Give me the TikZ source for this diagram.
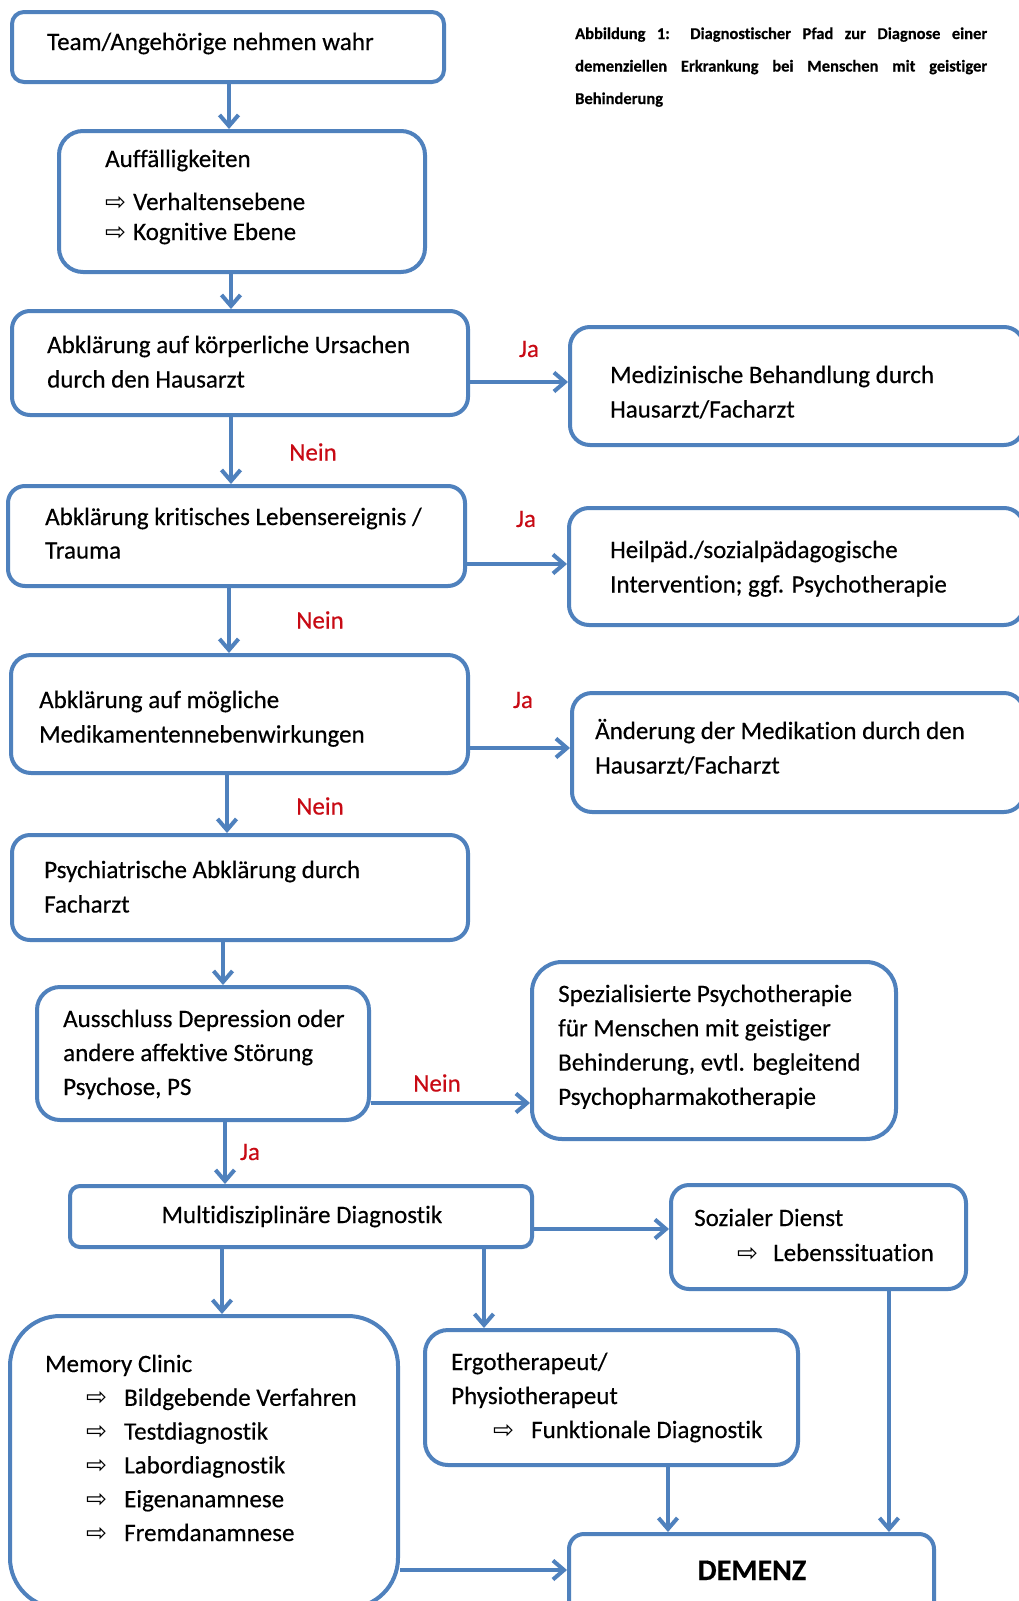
\documentclass[tikz,border=0pt]{standalone}
\usepackage{fontspec}
\setmainfont{Carlito}[Ligatures=NoCommon, FakeBold=0.4]
\newfontfamily\djv{DejaVu Sans}
\usetikzlibrary{arrows.meta}
\definecolor{bblue}{RGB}{79,129,189}
\definecolor{jared}{RGB}{200,10,20}
\newcommand\rarr{{\djv\fontsize{25}{25}\selectfont ⇨}}
\newcommand\mylines[1]{\begin{tabular}[t]{@{}l@{}}#1\end{tabular}}
\begin{document}
\begin{tikzpicture}[x=1pt,y=-1pt,
  box/.style={draw=bblue, line width=4pt, rectangle, inner sep=0pt},
  txt/.style={anchor=base west, inner sep=0pt, font=\fontsize{25}{34.5}\selectfont},
  lab/.style={inner sep=0pt, text=jared, font=\fontsize{25}{30}\selectfont},
  arr/.style={draw=bblue, line width=4pt, -{Straight Barb[length=11pt,width=19pt]}},
]
\fill[white] (0,0) rectangle (1019,1601);
\useasboundingbox (0,0) rectangle (1019,1601);

% caption
\node[anchor=base west, inner sep=0pt, font=\bfseries\fontsize{16.5}{32.5}\selectfont] (cap) at (575,39)
  {\mylines{\makebox[412pt][s]{Abbildung 1: Diagnostischer Pfad zur Diagnose einer}\\
  \makebox[412pt][s]{demenziellen Erkrankung bei Menschen mit geistiger}\\ Behinderung}};

% boxes
\node[box, rounded corners=12pt, minimum width=432pt, minimum height=70pt] (team) at (228,47) {};
\node[box, rounded corners=24pt, minimum width=366pt, minimum height=141pt] (auff) at (242,201.5) {};
\node[box, rounded corners=18pt, minimum width=456pt, minimum height=104pt] (abk1) at (240,363) {};
\node[box, rounded corners=20pt, minimum width=454pt, minimum height=118pt] (med) at (797,386) {};
\node[box, rounded corners=17pt, minimum width=457pt, minimum height=100pt] (abk2) at (236.5,536) {};
\node[box, rounded corners=20pt, minimum width=455pt, minimum height=117pt] (heil) at (796.5,566.5) {};
\node[box, rounded corners=20pt, minimum width=457pt, minimum height=118pt] (abk3) at (239.5,714) {};
\node[box, rounded corners=20pt, minimum width=452pt, minimum height=119pt] (aend) at (798,752.5) {};
\node[box, rounded corners=18pt, minimum width=456pt, minimum height=105pt] (psych) at (240,887.5) {};
\node[box, rounded corners=23pt, minimum width=332pt, minimum height=133pt] (aus) at (203,1053.5) {};
\node[box, rounded corners=30pt, minimum width=364pt, minimum height=177pt] (spez) at (714,1050.5) {};
\node[box, rounded corners=10pt, minimum width=462pt, minimum height=61pt] (multi) at (301,1216.5) {};
\node[box, rounded corners=18pt, minimum width=295pt, minimum height=104pt] (soz) at (818.5,1237) {};
\node[box, rounded corners=50pt, minimum width=388pt, minimum height=292pt] (mem) at (204,1462) {};
\node[box, rounded corners=23pt, minimum width=373pt, minimum height=135pt] (ergo) at (611.5,1397.5) {};
\node[box, rounded corners=15pt, minimum width=365pt, minimum height=91pt] (dem) at (751.5,1579.5) {};

% texts
\node[txt] (tteam) at (47,50) {Team/Angehörige nehmen wahr};
\node[txt, font=\fontsize{25}{30}\selectfont] (tauff) at (105,167)
  {\mylines{Auffälligkeiten\\[13pt] \makebox[28pt][l]{\rarr}Verhaltensebene\\ \makebox[28pt][l]{\rarr}Kognitive Ebene}};
\node[txt] (tabk1) at (47,353) {\mylines{Abklärung auf körperliche Ursachen\\ durch den Hausarzt}};
\node[txt] (tmed) at (610,383) {\mylines{Medizinische Behandlung durch\\ Hausarzt/Facharzt}};
\node[txt, font=\fontsize{25}{33.5}\selectfont] (tabk2) at (45,525) {\mylines{Abklärung kritisches Lebensereignis /\\ Trauma}};
\node[txt] (theil) at (610,558) {\mylines{Heilpäd./sozialpädagogische\\ Intervention; ggf. Psychotherapie}};
\node[txt] (tabk3) at (39,708) {\mylines{Abklärung auf mögliche\\ Medikamentennebenwirkungen}};
\node[txt] (taend) at (595,739) {\mylines{Änderung der Medikation durch den\\ Hausarzt/Facharzt}};
\node[txt] (tpsych) at (44,878) {\mylines{Psychiatrische Abklärung durch\\ Facharzt}};
\node[txt, font=\fontsize{25}{34}\selectfont] (taus) at (63,1027) {\mylines{Ausschluss Depression oder\\ andere affektive Störung\\ Psychose, PS}};
\node[txt, font=\fontsize{25}{34.3}\selectfont] (tspez) at (558,1002) {\mylines{Spezialisierte Psychotherapie\\ für Menschen mit geistiger\\ Behinderung, evtl. begleitend\\ Psychopharmakotherapie}};
\node[anchor=base, inner sep=0pt, font=\fontsize{25}{34.5}\selectfont] (tmulti) at (302,1223) {Multidisziplinäre Diagnostik};
\node[txt, font=\fontsize{25}{35}\selectfont] (tsoz) at (694,1226)
  {\mylines{Sozialer Dienst\\ \hspace{43pt}\makebox[36pt][l]{\rarr}Lebenssituation}};
\node[txt, font=\fontsize{25}{33.8}\selectfont] (tmem) at (45,1372)
  {\mylines{Memory Clinic\\
  \hspace{41pt}\makebox[38pt][l]{\rarr}Bildgebende Verfahren\\
  \hspace{41pt}\makebox[38pt][l]{\rarr}Testdiagnostik\\
  \hspace{41pt}\makebox[38pt][l]{\rarr}Labordiagnostik\\
  \hspace{41pt}\makebox[38pt][l]{\rarr}Eigenanamnese\\
  \hspace{41pt}\makebox[38pt][l]{\rarr}Fremdanamnese}};
\node[txt, font=\fontsize{25}{34}\selectfont] (tergo) at (451,1370)
  {\mylines{Ergotherapeut/\\ Physiotherapeut\\ \hspace{42pt}\makebox[38pt][l]{\rarr}Funktionale Diagnostik}};
\node[anchor=base, inner sep=0pt, font=\bfseries\fontsize{30}{36}\selectfont] (tdem) at (752,1580) {DEMENZ};

% connector columns / rows
\coordinate (v1) at (229,0);
\coordinate (v2) at (231,0);
\coordinate (v3) at (231,0);
\coordinate (v4) at (229,0);
\coordinate (v5) at (227,0);
\coordinate (v6) at (223,0);
\coordinate (v7) at (225,0);
\coordinate (v8) at (222,0);
\coordinate (v9) at (484,0);
\coordinate (v10) at (889,0);
\coordinate (v11) at (668,0);
\coordinate (h1) at (0,382);
\coordinate (h2) at (0,564);
\coordinate (h3) at (0,748);
\coordinate (h4) at (0,1103);
\coordinate (h5) at (0,1229);
\coordinate (h6) at (0,1570);

\draw[arr] (team.south -| v1) -- (auff.north -| v1);
\draw[arr] (auff.south -| v2) -- (abk1.north -| v2);
\draw[arr] (abk1.east |- h1) -- (med.west |- h1);
\draw[arr] (abk1.south -| v3) -- (abk2.north -| v3);
\draw[arr] (abk2.east |- h2) -- (heil.west |- h2);
\draw[arr] (abk2.south -| v4) -- (abk3.north -| v4);
\draw[arr] (abk3.east |- h3) -- (aend.west |- h3);
\draw[arr] (abk3.south -| v5) -- (psych.north -| v5);
\draw[arr] (psych.south -| v6) -- (aus.north -| v6);
\draw[arr] (aus.east |- h4) -- (spez.west |- h4);
\draw[arr] (aus.south -| v7) -- (multi.north -| v7);
\draw[arr] (multi.east |- h5) -- (soz.west |- h5);
\draw[arr] (multi.south -| v8) -- (mem.north -| v8);
\draw[arr] (multi.south -| v9) -- (ergo.north -| v9);
\draw[arr] (soz.south -| v10) -- (dem.north -| v10);
\draw[arr] (ergo.south -| v11) -- (dem.north -| v11);
\draw[arr] (mem.east |- h6) -- (dem.west |- h6);

% labels
\node[lab] (ja1) at (529,349) {Ja};
\node[lab] (nein1) at (313,452) {Nein};
\node[lab] (ja2) at (526,519) {Ja};
\node[lab] (nein2) at (320,620) {Nein};
\node[lab] (ja3) at (523,700) {Ja};
\node[lab] (nein3) at (320,806) {Nein};
\node[lab] (nein4) at (437,1083) {Nein};
\node[lab] (ja4) at (250,1152) {Ja};
\end{tikzpicture}
\end{document}
